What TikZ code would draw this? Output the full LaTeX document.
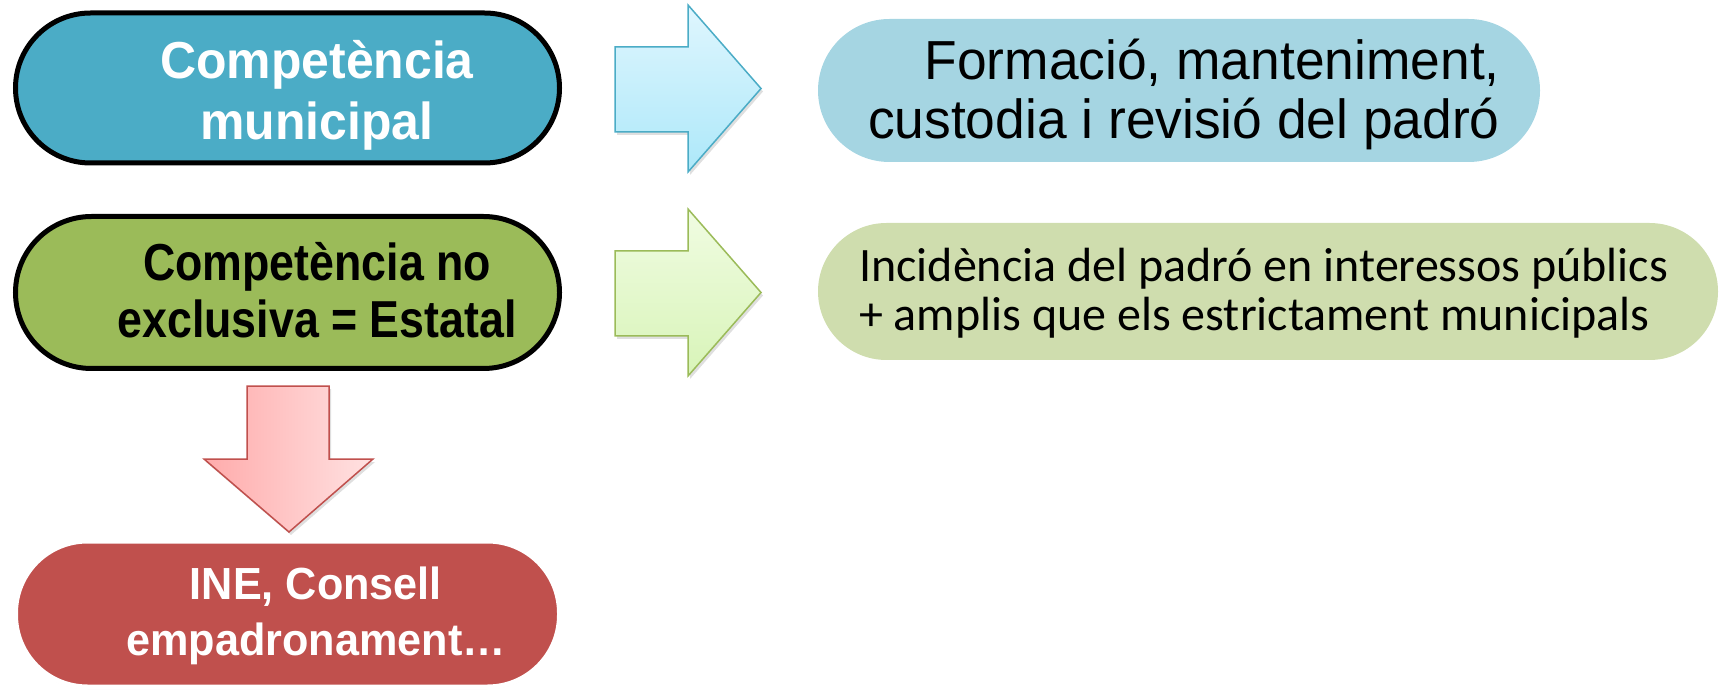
\documentclass[tikz,border=0pt]{standalone}
\usepackage{fontspec}
\setmainfont{Liberation Sans}
\newfontfamily\regf[FakeStretch=0.97]{Liberation Sans}
\newfontfamily\boldf[FakeStretch=0.96]{Liberation Sans}
\newfontfamily\condf[FakeStretch=0.86]{Liberation Sans}
\newfontfamily\calf{Carlito}
\usetikzlibrary{shadows}
\definecolor{cBlue}{HTML}{4BACC6}
\definecolor{cBlueLight}{HTML}{A5D5E2}
\definecolor{cBlueArrTop}{HTML}{DFF6FE}
\definecolor{cBlueArrBot}{HTML}{ADE8F9}
\definecolor{cGreen}{HTML}{9BBB59}
\definecolor{cGreenLight}{HTML}{CFDDAE}
\definecolor{cGreenArrTop}{HTML}{F0FCE2}
\definecolor{cGreenArrBot}{HTML}{D8F4B8}
\definecolor{cRed}{HTML}{C0504D}
\definecolor{cRedArrL}{HTML}{FFABAB}
\definecolor{cRedArrR}{HTML}{FFE2E2}
\tikzset{
  pill/.style={rectangle, inner sep=0pt, rounded corners=#1},
  boldtxt/.style={anchor=base, inner sep=0pt, font=\boldf\bfseries\fontsize{#1}{#1}\selectfont},
  condtxt/.style={anchor=base, inner sep=0pt, font=\condf\bfseries\fontsize{52}{52}\selectfont},
  regtxt/.style={anchor=base east, inner sep=0pt, font=\regf\fontsize{55}{62}\selectfont},
  caltxt/.style={anchor=base west, inner sep=0pt, font=\calf\fontsize{48}{56}\selectfont},
  arr/.style={line width=1.5pt, line join=miter,
    drop shadow={opacity=0.25, shadow xshift=2pt, shadow yshift=-3pt}},
}
\begin{document}
\begin{tikzpicture}[x=1pt,y=-1pt]
\useasboundingbox (0,0) rectangle (1721,692);
% left column boxes
\node[pill=75pt, draw=black, line width=5pt, fill=cBlue,
      minimum width=544pt, minimum height=150pt] (b1) at (287.5,88) {};
\node[pill=76pt, draw=black, line width=5pt, fill=cGreen,
      minimum width=544pt, minimum height=152pt] (b3) at (287.5,292.5) {};
\node[pill=72pt, draw=white, line width=5pt, fill=cRed,
      minimum width=544pt, minimum height=146pt,
      drop shadow={opacity=0.25, shadow xshift=0pt, shadow yshift=-2pt}] (b5) at (287.5,614) {};
% right column boxes
\node[pill=71.5pt, fill=cBlueLight, minimum width=722pt, minimum height=143pt] (b2) at (1179,90.5) {};
\node[pill=68.5pt, fill=cGreenLight, minimum width=900pt, minimum height=137pt] (b4) at (1268,291.5) {};
% texts
\node[boldtxt=52, text=white] (t1a) at (317,79) {Competència};
\node[boldtxt=52, text=white] (t1b) at (317,140) {municipal};
\node[condtxt, text=black] (t3a) at (317,281) {Competència no};
\node[condtxt, text=black] (t3b) at (317,338) {exclusiva = Estatal};
\node[boldtxt=45, text=white] (t5a) at (316,599) {INE, Consell};
\node[boldtxt=45, text=white] (t5b) at (316,655) {empadronament…};
\node[regtxt] (t2a) at (1500,80) {Formació, manteniment,};
\node[regtxt] (t2b) at (1500,139) {custodia i revisió del padró};
\node[caltxt] (t4a) at (859,282) {Incidència del padró en interessos públics};
\node[caltxt] (t4b) at (859,331) {+ amplis que els estrictament municipals};
% block arrows
\draw[arr, draw=cBlue, top color=cBlueArrTop, bottom color=cBlueArrBot]
  (615,47) -- (688,47) -- (688,5) -- (761,88.5) -- (688,172) -- (688,132) -- (615,132) -- cycle;
\draw[arr, draw=cGreen, top color=cGreenArrTop, bottom color=cGreenArrBot]
  (615,251) -- (688,251) -- (688,209) -- (761,292.5) -- (688,376) -- (688,336) -- (615,336) -- cycle;
\draw[arr, draw=cRed, left color=cRedArrL, right color=cRedArrR]
  (247,386) -- (329,386) -- (329,459) -- (373,459) -- (289,532) -- (204,459) -- (247,459) -- cycle;
\end{tikzpicture}
\end{document}
